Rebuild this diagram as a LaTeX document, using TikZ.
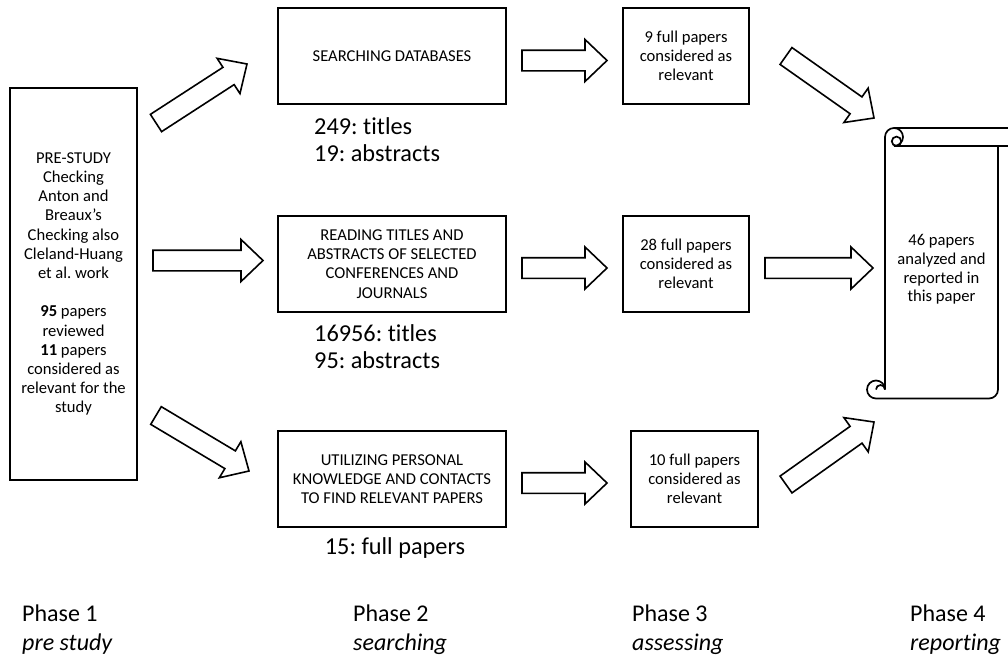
\documentclass[tikz,border=0pt]{standalone}
\usepackage{fontspec}
\setmainfont{Carlito}[Ligatures={NoCommon}]
\frenchspacing
\usetikzlibrary{calc}
\newcommand\shw{10.3pt}
\newcommand\hdw{21pt}
\newcommand\hdl{22pt}
\newcommand\blockarrow[2]{%
  \coordinate (hb) at ($(#2)!\hdl!(#1)$);
  \draw[barrow] ($(#1)!\shw!90:(#2)$) -- ($(hb)!\shw!-90:(#1)$) -- ($(hb)!\hdw!-90:(#1)$) -- (#2)
     -- ($(hb)!\hdw!90:(#1)$) -- ($(hb)!\shw!90:(#1)$) -- ($(#1)!\shw!-90:(#2)$) -- cycle;
}
\begin{document}
\begin{tikzpicture}[x=1pt,y=1pt,
  box/.style={draw, line width=1.8pt, align=center, inner sep=0pt,
    font=\fontsize{16.6}{19.2}\selectfont\frenchspacing},
  barrow/.style={draw, line width=1.6pt, fill=white, line join=miter},
  biglbl/.style={inner sep=0pt, align=left, font=\fontsize{24.3}{27}\selectfont\frenchspacing},
  phase/.style={inner sep=0pt, align=left, anchor=west, font=\fontsize{24}{29}\selectfont},
  scrollline/.style={line width=1.7pt}]
\fill[white] (0,0) rectangle (1008,-656);
\useasboundingbox (0,0) rectangle (1008,-656);

% boxes
\node[box, minimum width=127pt, minimum height=392pt] (pre) at (73.5,-284)
  {PRE-STUDY\\Checking\\Anton and\\Breaux’s\\Checking also\\Cleland-Huang\\et al. work\\[19.2pt]
   \textbf{95} papers\\reviewed\\\textbf{11} papers\\considered as\\relevant for the\\study};
\node[box, minimum width=228pt, minimum height=96pt] (sdb) at (392,-56) {SEARCHING DATABASES};
\node[box, minimum width=228pt, minimum height=96pt] (rta) at (392,-264)
  {READING TITLES AND\\ABSTRACTS OF SELECTED\\CONFERENCES AND\\JOURNALS};
\node[box, minimum width=228pt, minimum height=96pt] (upk) at (392,-479)
  {UTILIZING PERSONAL\\KNOWLEDGE AND CONTACTS\\TO FIND RELEVANT PAPERS};
\node[box, minimum width=126pt, minimum height=96pt] (r9) at (686,-56)
  {9 full papers\\considered as\\relevant};
\node[box, minimum width=126pt, minimum height=96pt] (r28) at (686,-264)
  {28 full papers\\considered as\\relevant};
\node[box, minimum width=127pt, minimum height=96pt] (r10) at (694.5,-479)
  {10 full papers\\considered as\\relevant};

% count labels
\node[biglbl, anchor=west] (l1) at (314,-139.5) {249: titles\\19: abstracts};
\node[biglbl, anchor=west] (l2) at (314,-346.5) {16956: titles\\95: abstracts};
\node[biglbl] (l3) at (395,-548) {15: full papers};

% scroll
\draw[scrollline] (885,-137) -- (885,-389.5) arc[start angle=0,end angle=270,radius=9]
  -- (989,-398.5) arc[start angle=-90,end angle=0,radius=9] -- (998,-146);
\draw[scrollline] (885,-137) arc[start angle=180,end angle=-90,radius=9] -- (1014,-146);
\draw[scrollline] (894,-128) -- (1014,-128);
\draw[scrollline] (896.5,-141.3) circle[radius=4.7];
\draw[scrollline] (876,-389.5) arc[start angle=180,end angle=0,radius=4.5];
\node[inner sep=0pt, align=center, font=\fontsize{16.6}{18.6}\selectfont] (rep) at (941.5,-269.5)
  {46 papers\\analyzed and\\reported in\\this paper};

% arrow end points
\coordinate (t1) at (156,-123);   \coordinate (h1) at (247,-64);
\coordinate (t2) at (153,-260.5); \coordinate (h2) at (263,-260.5);
\coordinate (t3) at (156,-415.5); \coordinate (h3) at (249,-471);
\coordinate (t4) at (522,-60.5);  \coordinate (h4) at (607,-60.5);
\coordinate (t5) at (522,-268);   \coordinate (h5) at (607,-268);
\coordinate (t6) at (522,-483);   \coordinate (h6) at (607,-483);
\coordinate (t7) at (786,-56);    \coordinate (h7) at (874,-118);
\coordinate (t8) at (765,-268);   \coordinate (h8) at (873,-268);
\coordinate (t9) at (786,-484.5); \coordinate (h9) at (874,-422);
\blockarrow{t1}{h1}
\blockarrow{t2}{h2}
\blockarrow{t3}{h3}
\blockarrow{t4}{h4}
\blockarrow{t5}{h5}
\blockarrow{t6}{h6}
\blockarrow{t7}{h7}
\blockarrow{t8}{h8}
\blockarrow{t9}{h9}

% phases
\node[phase] (p1) at (22,-629.5) {Phase 1\\\textit{pre study}};
\node[phase] (p2) at (353,-629.5) {Phase 2\\\textit{searching}};
\node[phase] (p3) at (632,-629.5) {Phase 3\\\textit{assessing}};
\node[phase] (p4) at (910,-629.5) {Phase 4\\\textit{reporting}};
\end{tikzpicture}
\end{document}
